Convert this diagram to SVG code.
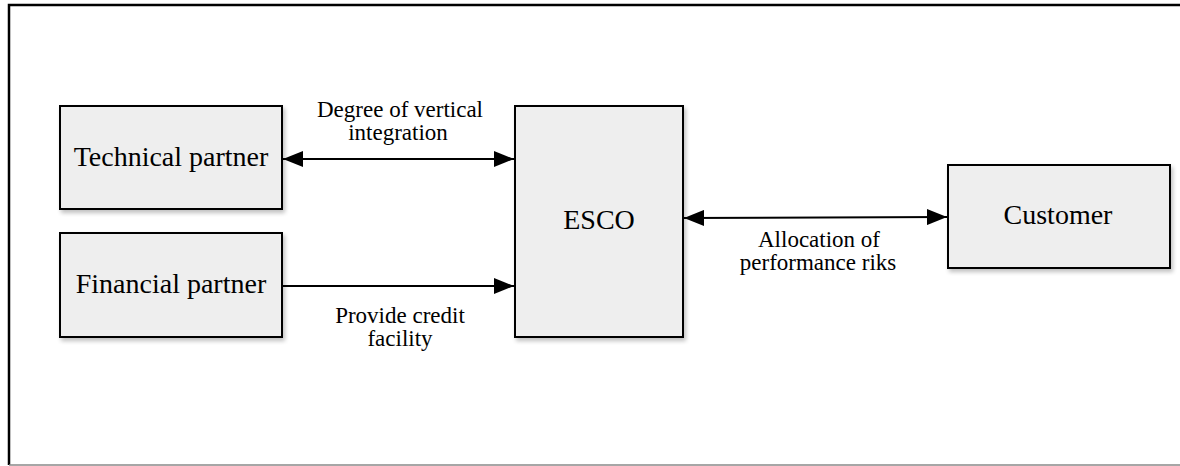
<svg xmlns="http://www.w3.org/2000/svg" width="1180" height="466" viewBox="0 0 1180 466">
<defs>
<marker id="ah" viewBox="0 0 20 16" markerWidth="20" markerHeight="16" refX="20" refY="8" orient="auto-start-reverse" markerUnits="userSpaceOnUse">
<path d="M0,0 L20,8 L0,16 Z" fill="#000"/>
</marker>
<filter id="sh" x="-10%" y="-10%" width="130%" height="130%">
<feGaussianBlur in="SourceAlpha" stdDeviation="2"/>
<feOffset dx="2" dy="3"/>
<feComponentTransfer><feFuncA type="linear" slope="0.25"/></feComponentTransfer>
<feMerge><feMergeNode/><feMergeNode in="SourceGraphic"/></feMerge>
</filter>
</defs>
<style>
.box{fill:#eeeeee;stroke:#000;stroke-width:2;filter:url(#sh)}
.big{font-family:"Liberation Serif",serif;font-size:28px;fill:#000;text-anchor:middle}
.lbl{font-family:"Liberation Serif",serif;font-size:23px;fill:#000;text-anchor:middle}
.con{stroke:#000;stroke-width:2;fill:none}
</style>
<rect x="0" y="0" width="1180" height="466" fill="#fff"/>
<path d="M9,465 L9,5 L1180,5" stroke="#000" stroke-width="2.5" fill="none"/>
<line x1="9" y1="465" x2="1180" y2="465" stroke="#888" stroke-width="1.5"/>
<g id="technical">
<rect class="box" x="60" y="106" width="222" height="103"/>
<text class="big" x="171" y="166">Technical partner</text>
</g>
<g id="financial">
<rect class="box" x="60" y="233" width="222" height="104"/>
<text class="big" x="171" y="293">Financial partner</text>
</g>
<g id="esco">
<rect class="box" x="515" y="106" width="168" height="231"/>
<text class="big" x="599" y="229">ESCO</text>
</g>
<g id="customer">
<rect class="box" x="948" y="165" width="222" height="103"/>
<text class="big" x="1058" y="224">Customer</text>
</g>
<g id="connectors">
<line class="con" x1="283" y1="159" x2="514" y2="159" marker-start="url(#ah)" marker-end="url(#ah)"/>
<line class="con" x1="283" y1="286" x2="514" y2="286" marker-end="url(#ah)"/>
<line class="con" x1="684" y1="218" x2="947" y2="217" marker-start="url(#ah)" marker-end="url(#ah)"/>
<text class="lbl" x="400" y="117">Degree of vertical</text>
<text class="lbl" x="398" y="140">integration</text>
<text class="lbl" x="400" y="323">Provide credit</text>
<text class="lbl" x="400" y="346">facility</text>
<text class="lbl" x="819" y="247">Allocation of</text>
<text class="lbl" x="818" y="270">performance riks</text>
</g>
</svg>
